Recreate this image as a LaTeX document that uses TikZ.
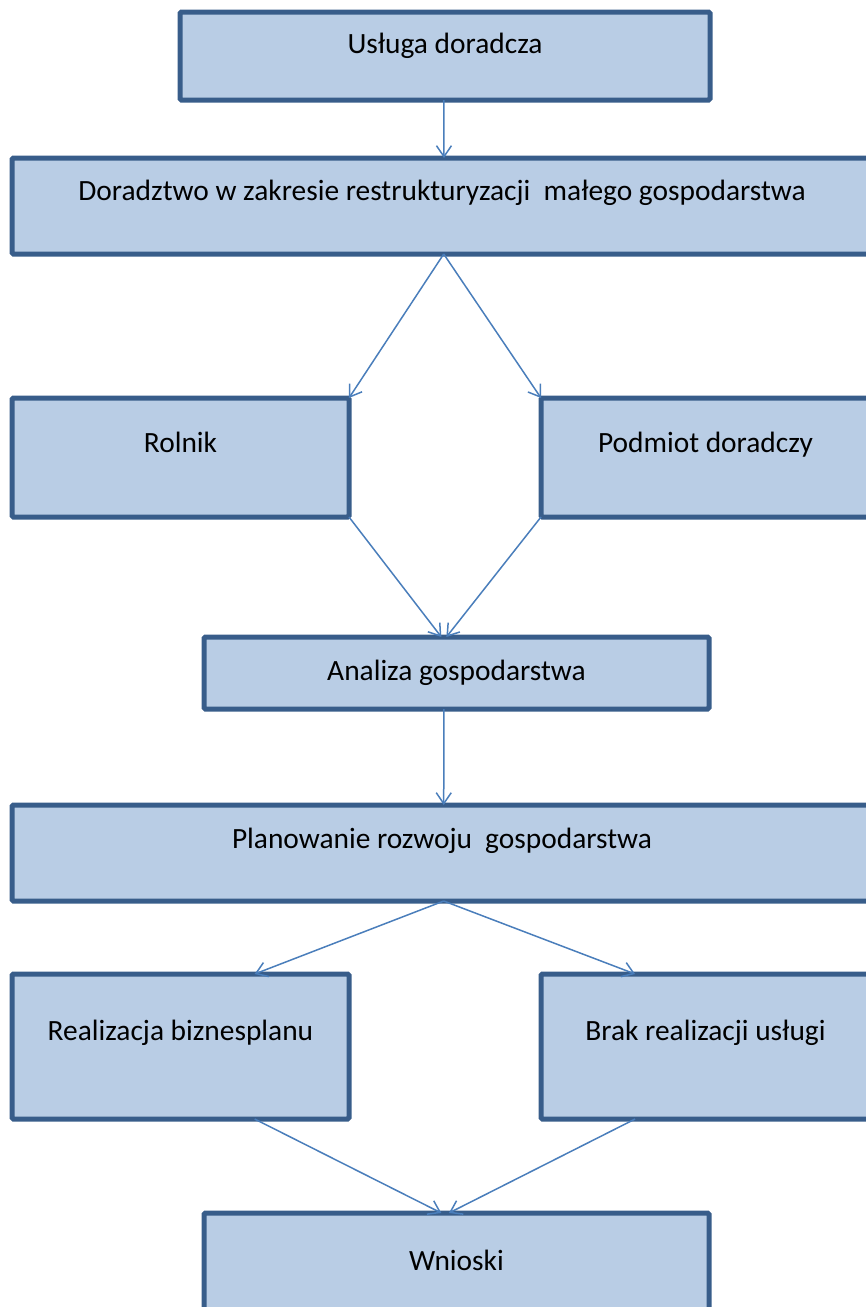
\documentclass[tikz,border=0pt]{standalone}
\usepackage{fontspec}
\setmainfont{Carlito}
\usetikzlibrary{arrows.meta,calc}
\definecolor{boxline}{HTML}{385D8A}
\definecolor{boxfill}{HTML}{B9CDE5}
\definecolor{conncol}{HTML}{4A7EBB}
\begin{document}
\begin{tikzpicture}[x=1pt,y=-1pt,
  box/.style={draw=boxline, fill=boxfill, line width=5pt, rounded corners=1.5pt,
    inner sep=0pt, outer sep=0pt, anchor=north west, align=center,
    font=\fontsize{29.4}{35}\selectfont},
  conn/.style={draw=conncol, line width=1.5pt,
    -{Straight Barb[length=11pt,width=15pt,line width=1.5pt]}}]
\useasboundingbox (0,0) rectangle (866,1307);
\clip (0,0) rectangle (866,1307);
\node[box, minimum width=530pt, text height=41pt, text depth=47pt] (us) at (180,12) {Usługa doradcza};
\node[box, minimum width=860pt, text height=42pt, text depth=54pt] (dr) at (12,158) {Doradztwo w zakresie restrukturyzacji\ \ małego gospodarstwa};
\node[box, minimum width=337pt, text height=54pt, text depth=65pt] (ro) at (12,398) {Rolnik};
\node[box, minimum width=329pt, text height=54pt, text depth=65pt] (pd) at (541,398) {Podmiot doradczy};
\node[box, minimum width=505pt, text height=43pt, text depth=29pt] (an) at (204,637) {Analiza gospodarstwa};
\node[box, minimum width=860pt, text height=43pt, text depth=53pt] (pl) at (12,805) {Planowanie rozwoju\ \ gospodarstwa};
\node[box, minimum width=337pt, text height=66pt, text depth=79pt] (re) at (12,974) {Realizacja biznesplanu};
\node[box, minimum width=329pt, text height=66pt, text depth=79pt] (br) at (541,974) {Brak realizacji usługi};
\node[box, minimum width=505pt, text height=57pt, text depth=60pt] (wn) at (204,1213) {Wnioski};
% connectors
\draw[conn] ($(us.south west)!0.498!(us.south east)$) -- ($(dr.north west)!0.5023!(dr.north east)$);
\draw[conn] ($(dr.south west)!0.502!(dr.south east)$) -- (ro.north east);
\draw[conn] ($(dr.south west)!0.502!(dr.south east)$) -- (pd.north west);
\draw[conn] (ro.south east) -- ($(an.north west)!0.47!(an.north east)$);
\draw[conn] (pd.south west) -- ($(an.north west)!0.48!(an.north east)$);
\draw[conn] ($(an.south west)!0.475!(an.south east)$) -- ($(pl.north west)!0.502!(pl.north east)$);
\draw[conn] ($(pl.south west)!0.502!(pl.south east)$) -- ($(re.north west)!0.72!(re.north east)$);
\draw[conn] ($(pl.south west)!0.502!(pl.south east)$) -- ($(br.north west)!0.286!(br.north east)$);
\draw[conn] ($(re.south west)!0.72!(re.south east)$) -- ($(wn.north west)!0.47!(wn.north east)$);
\draw[conn] ($(br.south west)!0.286!(br.south east)$) -- ($(wn.north west)!0.485!(wn.north east)$);
\end{tikzpicture}
\end{document}
